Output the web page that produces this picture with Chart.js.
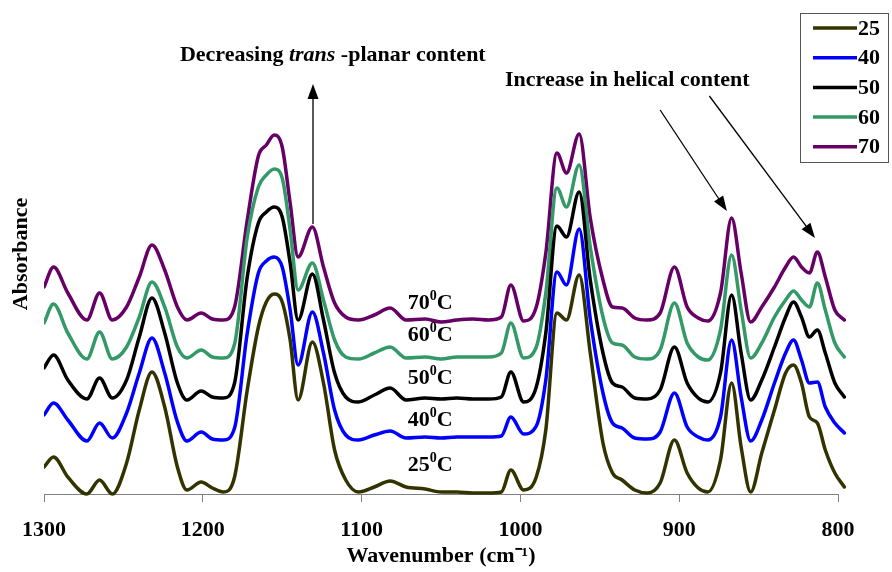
<!DOCTYPE html>
<html>
<head>
<meta charset="utf-8">
<title>FTIR spectra vs temperature</title>
<script src="https://cdn.jsdelivr.net/npm/chart.js@4.4.0/dist/chart.umd.min.js"></script>
<style>
  html, body { margin: 0; padding: 0; background: #fff; }
</style>
</head>
<body>
<canvas id="spectraChart" width="892" height="572"></canvas>
<script>
// wavenumber grid (cm-1)
const wavenumbers = [1300, 1294, 1285, 1273, 1265, 1257, 1248, 1240, 1232, 1224, 1216, 1210, 1201, 1194, 1187, 1180,
  1172, 1165, 1160, 1155, 1150, 1145, 1140, 1131, 1124, 1117, 1110, 1102, 1092, 1082, 1072, 1060, 1050, 1040, 1030,
  1020, 1012, 1006, 998, 990, 984, 977, 971, 963, 956, 948, 942, 936, 928, 920, 912, 903, 895, 888, 882, 874, 867,
  861, 855, 848, 840, 833, 828, 823, 818, 813, 808, 802, 796];

// absorbance (offset traces, arbitrary units)
const abs25 = [0.27, 0.37, 0.17, 0.00, 0.14, 0.00, 0.31, 0.84, 1.22, 0.87, 0.27, 0.04, 0.12, 0.06, 0.02, 0.17,
  1.04, 1.67, 1.92, 2.00, 1.92, 1.54, 0.94, 1.52, 1.11, 0.44, 0.14, 0.02, 0.07, 0.13, 0.07, 0.05, 0.02, 0.02, 0.01,
  0.01, 0.02, 0.24, 0.04, 0.17, 0.64, 1.81, 1.74, 2.19, 1.41, 0.51, 0.21, 0.14, 0.04, 0.01, 0.11, 0.54, 0.21, 0.06,
  0.02, 0.34, 1.11, 0.47, 0.02, 0.41, 0.84, 1.21, 1.29, 1.11, 0.77, 0.71, 0.44, 0.21, 0.07];
const abs40 = [0.79, 0.91, 0.74, 0.53, 0.71, 0.56, 0.81, 1.21, 1.56, 1.21, 0.72, 0.53, 0.62, 0.55, 0.54, 0.66,
  1.61, 2.21, 2.33, 2.37, 2.27, 1.84, 1.29, 1.82, 1.41, 0.84, 0.59, 0.54, 0.59, 0.63, 0.56, 0.57, 0.56, 0.57, 0.57,
  0.57, 0.58, 0.77, 0.60, 0.68, 1.14, 2.22, 2.09, 2.65, 1.75, 1.01, 0.71, 0.66, 0.56, 0.55, 0.62, 1.01, 0.67, 0.57,
  0.54, 0.77, 1.54, 0.97, 0.53, 0.74, 1.11, 1.41, 1.54, 1.34, 1.11, 1.12, 0.87, 0.71, 0.61];
const abs50 = [1.26, 1.39, 1.14, 0.95, 1.16, 0.96, 1.14, 1.57, 1.96, 1.61, 1.11, 0.94, 1.03, 0.97, 0.96, 1.11,
  2.17, 2.71, 2.82, 2.87, 2.77, 2.31, 1.74, 2.20, 1.74, 1.21, 0.97, 0.92, 0.99, 1.06, 0.94, 0.96, 0.95, 0.96, 0.95,
  0.95, 0.97, 1.22, 0.92, 1.07, 1.61, 2.68, 2.57, 3.02, 2.14, 1.41, 1.11, 1.07, 0.96, 0.95, 1.04, 1.47, 1.11, 0.96,
  0.92, 1.21, 1.99, 1.41, 0.94, 1.14, 1.47, 1.77, 1.92, 1.77, 1.57, 1.64, 1.41, 1.11, 0.97];
const abs60 = [1.71, 1.90, 1.61, 1.35, 1.62, 1.35, 1.47, 1.77, 2.12, 1.87, 1.47, 1.36, 1.44, 1.37, 1.36, 1.50,
  2.57, 3.07, 3.19, 3.25, 3.16, 2.64, 2.04, 2.31, 1.94, 1.54, 1.37, 1.35, 1.41, 1.47, 1.36, 1.37, 1.35, 1.37, 1.37,
  1.37, 1.41, 1.71, 1.36, 1.47, 2.01, 3.06, 2.87, 3.29, 2.47, 1.77, 1.51, 1.49, 1.37, 1.35, 1.44, 1.91, 1.51, 1.37,
  1.34, 1.64, 2.39, 1.84, 1.36, 1.51, 1.77, 1.94, 2.03, 1.94, 1.87, 2.11, 1.84, 1.51, 1.37];
const abs70 = [2.07, 2.27, 2.01, 1.74, 2.01, 1.74, 1.87, 2.17, 2.49, 2.24, 1.87, 1.74, 1.81, 1.75, 1.74, 1.87,
  2.74, 3.38, 3.49, 3.59, 3.47, 2.91, 2.37, 2.67, 2.27, 1.91, 1.77, 1.74, 1.79, 1.86, 1.74, 1.75, 1.72, 1.74, 1.75,
  1.74, 1.77, 2.09, 1.73, 1.87, 2.41, 3.41, 3.21, 3.60, 2.76, 2.14, 1.87, 1.86, 1.76, 1.74, 1.81, 2.27, 1.87, 1.76,
  1.73, 2.01, 2.76, 2.21, 1.72, 1.87, 2.07, 2.27, 2.37, 2.27, 2.21, 2.42, 2.17, 1.84, 1.74];

const seriesLabels = ['25', '40', '50', '60', '70'];
const seriesColors = ['#333300', '#0000ff', '#000000', '#339966', '#660066'];
const xTicks = [1300, 1200, 1100, 1000, 900, 800];

// temperature labels placed next to the traces
const tempLabels = ['70', '60', '50', '40', '25'];
const tempLabelY = [1.91, 1.59, 1.16, 0.74, 0.29];
const tempLabelX = 1071;

const FONT = '"Liberation Serif", "Times New Roman", serif';

function drawArrow(ctx, x1, y1, x2, y2) {
    const ang = Math.atan2(y2 - y1, x2 - x1);
    const len = 15, half = 5.5;
    ctx.beginPath();
    ctx.moveTo(x1, y1);
    ctx.lineTo(x2 - Math.cos(ang) * len * 0.8, y2 - Math.sin(ang) * len * 0.8);
    ctx.stroke();
    ctx.beginPath();
    ctx.moveTo(x2, y2);
    ctx.lineTo(x2 - Math.cos(ang) * len - Math.sin(ang) * half, y2 - Math.sin(ang) * len + Math.cos(ang) * half);
    ctx.lineTo(x2 - Math.cos(ang) * len + Math.sin(ang) * half, y2 - Math.sin(ang) * len - Math.cos(ang) * half);
    ctx.closePath();
    ctx.fill();
}

// arrows and text notes
const notesPlugin = {
    id: 'notes',
    afterDatasetsDraw(chart) {
        const { ctx, scales: { x, y } } = chart;
        ctx.save();
        ctx.strokeStyle = '#000';
        ctx.fillStyle = '#000';
        ctx.lineWidth = 1.3;

        drawArrow(ctx, x.getPixelForValue(1130.6), y.getPixelForValue(2.70), x.getPixelForValue(1130.6), y.getPixelForValue(4.10));
        drawArrow(ctx, x.getPixelForValue(912), y.getPixelForValue(3.84), x.getPixelForValue(870), y.getPixelForValue(2.83));
        drawArrow(ctx, x.getPixelForValue(881), y.getPixelForValue(3.98), x.getPixelForValue(814.5), y.getPixelForValue(2.56));

        ctx.textBaseline = 'middle';
        ctx.textAlign = 'left';
        let tx = x.getPixelForValue(1214.4);
        const ty = y.getPixelForValue(4.39);
        [['Decreasing ', 'bold'], ['trans', 'italic bold'], [' -planar content', 'bold']].forEach(([t, f]) => {
            ctx.font = f + ' 22px ' + FONT;
            ctx.fillText(t, tx, ty);
            tx += ctx.measureText(t).width;
        });
        ctx.font = 'bold 22px ' + FONT;
        ctx.fillText('Increase in helical content', x.getPixelForValue(1009.7), y.getPixelForValue(4.14));

        // 70⁰C etc.
        tempLabels.forEach((t, i) => {
            let lx = x.getPixelForValue(tempLabelX);
            const ly = y.getPixelForValue(tempLabelY[i]);
            ctx.font = 'bold 22px ' + FONT;
            ctx.fillText(t, lx, ly);
            lx += ctx.measureText(t).width;
            ctx.font = 'bold 14px ' + FONT;
            ctx.fillText('0', lx, ly - 7);
            lx += ctx.measureText('0').width;
            ctx.font = 'bold 22px ' + FONT;
            ctx.fillText('C', lx, ly);
        });
        ctx.restore();
    }
};

// boxed legend in the top right corner
const legendBox = {
    id: 'legendBox',
    afterDraw(chart) {
        const ctx = chart.ctx;
        ctx.save();
        ctx.strokeStyle = '#555';
        ctx.lineWidth = 1;
        ctx.strokeRect(800.5, 13.5, 88, 149);
        ctx.font = 'bold 22px ' + FONT;
        ctx.textBaseline = 'middle';
        ctx.fillStyle = '#000';
        chart.data.datasets.forEach((ds, i) => {
            const ly = 28 + i * 29.7;
            ctx.strokeStyle = ds.borderColor;
            ctx.lineWidth = 3.5;
            ctx.beginPath();
            ctx.moveTo(813, ly);
            ctx.lineTo(857, ly);
            ctx.stroke();
            ctx.fillText(ds.label, 858, ly + 1);
        });
        ctx.restore();
    }
};

const series = [abs25, abs40, abs50, abs60, abs70];

const chart = new Chart(document.getElementById('spectraChart'), {
    type: 'line',
    data: {
        datasets: series.map((arr, i) => ({
            label: seriesLabels[i],
            data: wavenumbers.map((w, j) => ({ x: w, y: arr[j] })),
            borderColor: seriesColors[i],
            backgroundColor: seriesColors[i],
            borderWidth: 3.5,
            pointRadius: 0,
            cubicInterpolationMode: 'monotone',
            borderJoinStyle: 'round',
            borderCapStyle: 'round',
            fill: false,
            clip: { left: 0, top: false, right: 8, bottom: 3 }
        }))
    },
    options: {
        responsive: false,
        devicePixelRatio: 1,
        animation: false,
        layout: { padding: { top: 14, right: 54, bottom: 0, left: 0 } },
        plugins: { legend: { display: false }, tooltip: { enabled: false } },
        scales: {
            x: {
                type: 'linear',
                reverse: true,
                min: 800,
                max: 1300,
                afterBuildTicks: scale => { scale.ticks = xTicks.map(v => ({ value: v })); },
                afterFit: scale => { scale.height = 78; },
                grid: { display: true, drawOnChartArea: false, drawTicks: true, tickLength: 8, color: '#808080', lineWidth: 1 },
                border: { display: true, color: '#808080', width: 1 },
                ticks: {
                    color: '#000',
                    font: { family: FONT, size: 22, weight: 'bold' },
                    padding: 15,
                    maxRotation: 0,
                    callback: v => String(v)
                },
                title: {
                    display: true,
                    text: 'Wavenumber (cm⁻¹)',
                    color: '#000',
                    font: { family: FONT, size: 22, weight: 'bold' },
                    padding: { top: 0, bottom: 2 }
                }
            },
            y: {
                min: 0,
                max: 4.8,
                afterFit: scale => { scale.width = 44; },
                grid: { display: false },
                border: { display: false },
                ticks: { display: false },
                title: {
                    display: true,
                    text: 'Absorbance',
                    color: '#000',
                    font: { family: FONT, size: 22, weight: 'bold' },
                    padding: { top: 8, bottom: 0 }
                }
            }
        }
    },
    plugins: [notesPlugin, legendBox]
});
</script>
</body>
</html>
